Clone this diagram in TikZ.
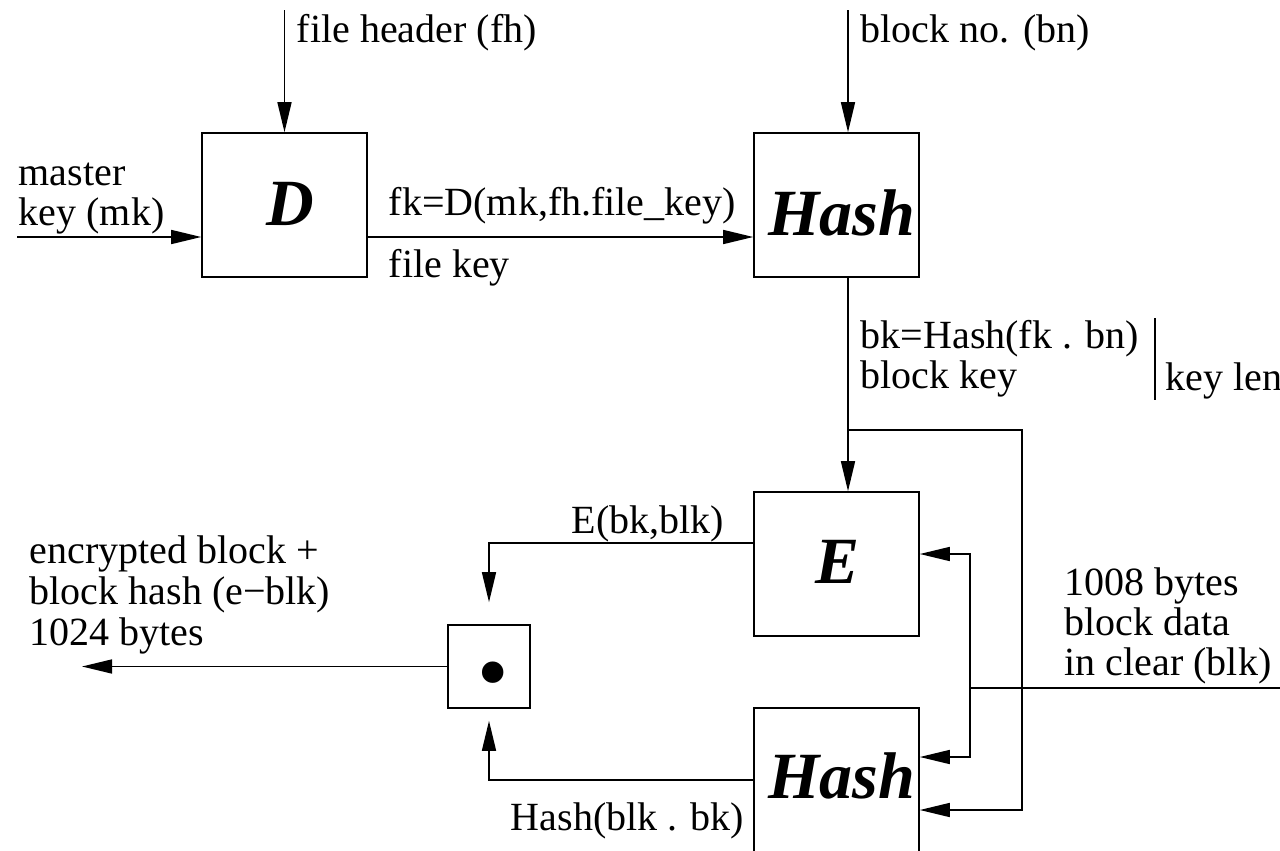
\documentclass[tikz,border=0pt]{standalone}
\usepackage{fontspec}
\setmainfont{Liberation Serif}
\usetikzlibrary{arrows.meta,calc}
\begin{document}
\begin{tikzpicture}[x=0.5pt,y=-0.5pt,
  line width=0.8pt,
  arr/.style={-{Triangle[length=15pt,width=7pt]}},
  box/.style={draw,line width=0.8pt,minimum width=82.5pt,minimum height=72pt,inner sep=0pt},
  lbl/.style={inner sep=0pt,anchor=base west,font=\fontsize{20}{20}\selectfont},
  big/.style={inner sep=0pt,anchor=base,font=\fontsize{33}{33}\selectfont\bfseries\itshape}]
\useasboundingbox (0,0) rectangle (1280,851);
% boxes
\node[box] (D) at (284.5,205) {};
\node[box] (H1) at (836.5,205) {};
\node[box] (E) at (836.5,564) {};
\node[box] (H2) at (836.5,780) {};
\node[box,minimum width=41pt,minimum height=41.5pt] (dot) at (489,666.5) {};
% box labels
\node[big] (Dl) at (290,225) {D};
\node[big] (H1l) at (842,235) {Hash};
\node[big] (El) at (838,583) {E};
\node[big] (H2l) at (842,798) {Hash};
\node[inner sep=0pt,anchor=base,font=\fontsize{66}{66}\selectfont\bfseries\itshape] (dotl) at (498,681) {.};
% free ends
\coordinate (fhin) at (284.5,10);
\coordinate (mkin) at (17,237);
\coordinate (bnin) at (848,10);
\coordinate (br) at (848,430);
\coordinate (lp) at (1022,810);
\coordinate (datain) at (1282,688);
\coordinate (dj) at (970,688);
\coordinate (out) at (82,666.5);
\coordinate (kla) at (1155,318);
\coordinate (klb) at (1155,400);
% connectors
\draw[arr] (fhin) -- (D.north);
\draw[arr] (mkin) -- (mkin -| D.west);
\draw[arr] (D.east |- mkin) -- (mkin -| H1.west);
\draw[arr] (bnin) -- (bnin |- H1.north);
\draw[arr] (bnin |- H1.south) -- (bnin |- E.north);
\draw[arr] (br) -| (lp) -- (lp -| H2.east);
\draw (datain) -- (dj);
\draw[arr] (dj) |- ([yshift=5pt]E.east);
\draw[arr] (dj) |- ([yshift=11.5pt]H2.east);
\draw[arr,shorten >=11pt] ([yshift=10.5pt]E.west) -| (dot.north);
\draw[arr,shorten >=6pt] (H2.west) -| (dot.south);
\draw[arr] (dot.west) -- (out);
\draw (kla) -- (klb);
% labels
\node[lbl] (fh) at (296,42) {file header (fh)};
\node[lbl] (bn) at (860,42) {block no. (bn)};
\node[lbl] (mk1) at (18,185) {master};
\node[lbl] (mk2) at (18,225) {key (mk)};
\node[lbl] (fk1) at (388,215) {fk=D(mk,fh.file\_key)};
\node[lbl] (fk2) at (388,277) {file key};
\node[lbl] (bk1) at (860,348) {bk=Hash(fk . bn)};
\node[lbl] (bk2) at (860,388) {block key};
\node[lbl] (kl) at (1165,390) {key len};
\node[lbl] (ebk) at (571,533) {E(bk,blk)};
\node[lbl] (hbk) at (510,830) {Hash(blk . bk)};
\node[lbl] (o1) at (29,563) {encrypted block +};
\node[lbl] (o2) at (29,604) {block hash (e−blk)};
\node[lbl] (o3) at (29,645) {1024 bytes};
\node[lbl] (d1) at (1064,595) {1008 bytes};
\node[lbl] (d2) at (1064,635) {block data};
\node[lbl] (d3) at (1064,675) {in clear (blk)};
\end{tikzpicture}
\end{document}
